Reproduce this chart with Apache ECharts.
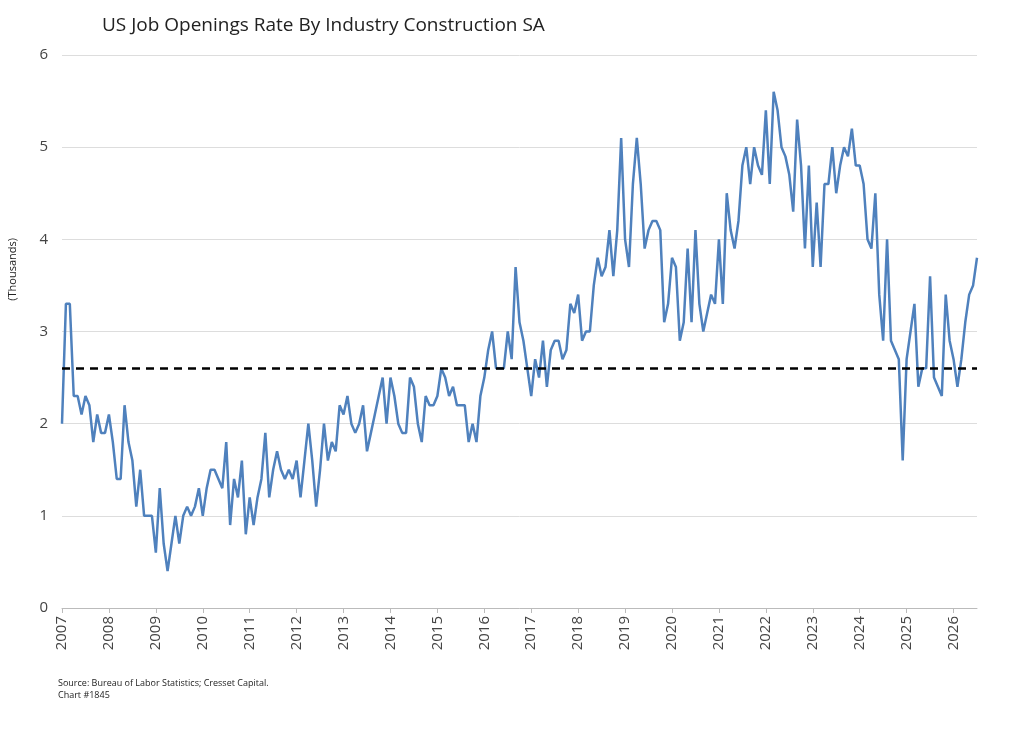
<!DOCTYPE html>
<html>
<head>
    <meta charset="utf-8">
    <script src="https://cdn.jsdelivr.net/npm/echarts@6/dist/echarts.min.js"></script>
    <style>body{margin:0;background:#fff}</style>
</head>
<body>
<div id="main" style="width:1024px;height:744px;"></div>
<script type="text/javascript">
    // monthly values from Jan 2007
    var startYear = 2007;
    var openings = [
        2.0,3.3,3.3,2.3,2.3,2.1,2.3,2.2,1.8,2.1,1.9,1.9,
        2.1,1.8,1.4,1.4,2.2,1.8,1.6,1.1,1.5,1.0,1.0,1.0,
        0.6,1.3,0.7,0.4,0.7,1.0,0.7,1.0,1.1,1.0,1.1,1.3,
        1.0,1.3,1.5,1.5,1.4,1.3,1.8,0.9,1.4,1.2,1.6,0.8,
        1.2,0.9,1.2,1.4,1.9,1.2,1.5,1.7,1.5,1.4,1.5,1.4,
        1.6,1.2,1.6,2.0,1.6,1.1,1.5,2.0,1.6,1.8,1.7,2.2,
        2.1,2.3,2.0,1.9,2.0,2.2,1.7,1.9,2.1,2.3,2.5,2.0,
        2.5,2.3,2.0,1.9,1.9,2.5,2.4,2.0,1.8,2.3,2.2,2.2,
        2.3,2.6,2.5,2.3,2.4,2.2,2.2,2.2,1.8,2.0,1.8,2.3,
        2.5,2.8,3.0,2.6,2.6,2.6,3.0,2.7,3.7,3.1,2.9,2.6,
        2.3,2.7,2.5,2.9,2.4,2.8,2.9,2.9,2.7,2.8,3.3,3.2,
        3.4,2.9,3.0,3.0,3.5,3.8,3.6,3.7,4.1,3.6,4.1,5.1,
        4.0,3.7,4.6,5.1,4.6,3.9,4.1,4.2,4.2,4.1,3.1,3.3,
        3.8,3.7,2.9,3.1,3.9,3.1,4.1,3.3,3.0,3.2,3.4,3.3,
        4.0,3.3,4.5,4.1,3.9,4.2,4.8,5.0,4.6,5.0,4.8,4.7,
        5.4,4.6,5.6,5.4,5.0,4.9,4.7,4.3,5.3,4.8,3.9,4.8,
        3.7,4.4,3.7,4.6,4.6,5.0,4.5,4.8,5.0,4.9,5.2,4.8,
        4.8,4.6,4.0,3.9,4.5,3.4,2.9,4.0,2.9,2.8,2.7,1.6,
        2.7,3.0,3.3,2.4,2.6,2.6,3.6,2.5,2.4,2.3,3.4,2.9,
        2.7,2.4,2.7,3.1,3.4,3.5,3.8
    ];
    var average = 2.6;
    var yTicks = [0, 1, 2, 3, 4, 5, 6];

    var months = openings.map(function (v, i) {
        return (startYear + Math.floor(i / 12)) + '-' + ('0' + (i % 12 + 1)).slice(-2);
    });
    var isJan = function (i) { return i % 12 === 0; };

    var myChart = echarts.init(document.getElementById('main'));
    var option = {
        animation: false,
        title: {
            text: 'US Job Openings Rate By Industry Construction SA',
            left: 97, top: 11,
            textStyle: {fontFamily: 'Open Sans', fontSize: 19, fontWeight: 'normal', color: '#222'}
        },
        graphic: [
            {type: 'text', left: 58, top: 677, style: {text: 'Source: Bureau of Labor Statistics; Cresset Capital.\nChart #1845', font: '9px "Open Sans"', fill: '#222', lineHeight: 12}},
            {type: 'text', left: 7, top: 238, rotation: Math.PI / 2, style: {text: '(Thousands)', font: '11px "Open Sans"', fill: '#222'}}
        ],
        grid: {left: 62, right: 47, top: 55, bottom: 136},
        xAxis: {
            type: 'category',
            boundaryGap: false,
            data: months,
            axisLine: {lineStyle: {color: '#bbb'}},
            axisTick: {interval: isJan, length: 5, lineStyle: {color: '#bbb'}},
            axisLabel: {
                interval: isJan, rotate: 90, margin: 8,
                formatter: function (v) { return v.slice(0, 4); },
                fontFamily: 'Open Sans', fontSize: 15, color: '#444'
            },
            splitLine: {show: false}
        },
        yAxis: {
            type: 'value',
            min: yTicks[0], max: yTicks[yTicks.length - 1], interval: 1,
            axisLabel: {fontFamily: 'Open Sans', fontSize: 15, color: '#444', margin: 14},
            splitLine: {lineStyle: {color: '#ddd'}},
            axisLine: {show: false}, axisTick: {show: false}
        },
        series: [{
            type: 'line',
            data: openings,
            showSymbol: false,
            lineStyle: {color: '#4f81bd', width: 2.5},
            itemStyle: {color: '#4f81bd'},
            markLine: {
                silent: true, symbol: 'none', label: {show: false},
                lineStyle: {color: '#000', type: [8, 6], width: 2.5},
                data: [{yAxis: average}]
            }
        }]
    };
    myChart.setOption(option);
</script>
</body>
</html>
